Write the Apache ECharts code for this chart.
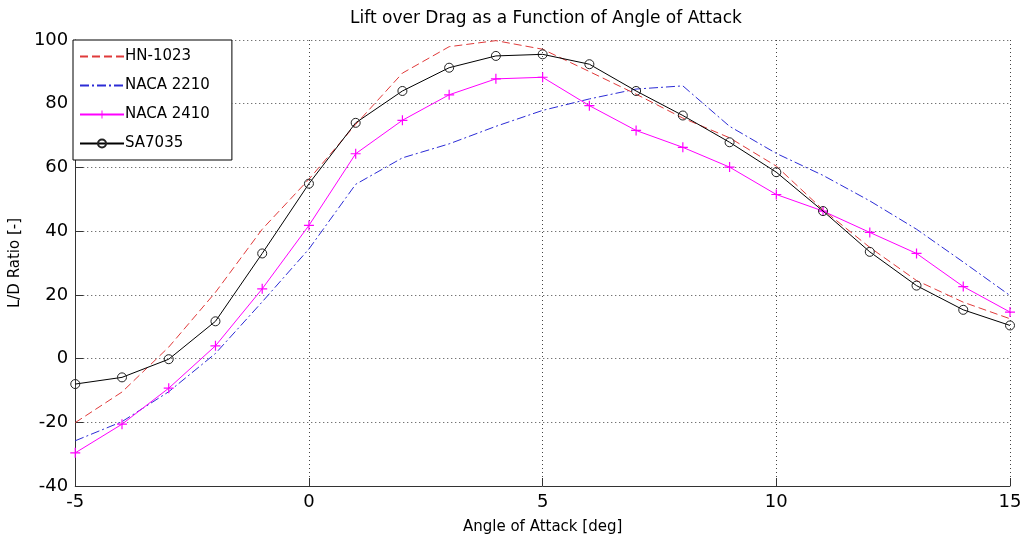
<!DOCTYPE html>
<html>
<head>
<meta charset="utf-8">
<script src="https://cdn.jsdelivr.net/npm/echarts@6/dist/echarts.min.js"></script>
<style>
html,body{margin:0;padding:0;background:#fff;}
#chart{width:1027px;height:540px;}
</style>
</head>
<body>
<div id="chart"></div>
<script>
const angles = [-5,-4,-3,-2,-1,0,1,2,3,4,5,6,7,8,9,10,11,12,13,14,15];
const hn1023 = [-20.1,-10.5,3.6,20.8,40.6,56.3,73.5,89.6,97.9,99.8,97.1,90.1,83.0,75.5,69.3,60.4,46.7,34.9,24.5,17.7,12.5];
const naca2210 = [-25.8,-19.8,-10.4,1.6,17.8,34.4,54.7,63.0,67.4,72.9,77.9,81.5,84.6,85.6,72.9,64.4,57.5,49.5,40.6,30.3,19.8];
const naca2410 = [-29.6,-20.6,-9.3,4.0,21.9,41.8,64.3,74.8,82.8,87.8,88.3,79.4,71.6,66.3,60.1,51.5,46.3,39.6,33.0,22.6,14.6];
const sa7035 = [-8.0,-5.9,-0.2,11.7,33.0,54.9,74.0,84.0,91.3,95.0,95.5,92.4,84.0,76.3,67.9,58.5,46.3,33.5,22.9,15.3,10.4];
const seriesNames = ['HN-1023','NACA 2210','NACA 2410','SA7035'];

const pairs = arr => angles.map((a,i)=>[a,arr[i]]);
const FONT = 'DejaVu Sans';
const plusPath = 'path://M4.4,0 H5.6 V4.4 H10 V5.6 H5.6 V10 H4.4 V5.6 H0 V4.4 H4.4 Z';

const chart = echarts.init(document.getElementById('chart'), null, {renderer:'canvas'});
chart.setOption({
  animation:false,
  backgroundColor:'#ffffff',
  title:{
    text:'Lift over Drag as a Function of Angle of Attack',
    left:541, top:5, textAlign:'center',
    textStyle:{fontFamily:FONT,fontSize:17,fontWeight:'normal',color:'#000'}
  },
  grid:{left:72,right:17,top:40,bottom:52,containLabel:false},
  legend:{
    orient:'vertical', left:73, top:40,
    data:[
      {name:seriesNames[0], itemStyle:{opacity:0}},
      {name:seriesNames[1], itemStyle:{opacity:0}},
      {name:seriesNames[2]},
      {name:seriesNames[3]}
    ],
    backgroundColor:'#fff',
    borderColor:'#000', borderWidth:1,
    padding:[9,22,9,6],
    itemWidth:44, itemHeight:10, itemGap:14,
    textStyle:{fontFamily:FONT,fontSize:15,color:'#000',padding:[0,0,0,-4]}
  },
  xAxis:{
    type:'value', min:-5, max:15, interval:5,
    name:'Angle of Attack [deg]', nameLocation:'middle', nameGap:34,
    nameTextStyle:{fontFamily:FONT,fontSize:15,color:'#000'},
    axisLine:{show:true,onZero:false,lineStyle:{color:'#333',width:1}},
    axisTick:{show:true,inside:true,length:8,lineStyle:{color:'#333'}},
    axisLabel:{fontFamily:FONT,fontSize:18,color:'#000',margin:7},
    splitLine:{show:true,lineStyle:{type:[1,3],color:'#444',width:1}}
  },
  yAxis:{
    type:'value', min:-40, max:100, interval:20,
    name:'L/D Ratio [-]', nameLocation:'middle', nameGap:48, nameRotate:90,
    nameTextStyle:{fontFamily:FONT,fontSize:15,color:'#000'},
    axisLine:{show:true,onZero:false,lineStyle:{color:'#333',width:1}},
    axisTick:{show:true,inside:true,length:8,lineStyle:{color:'#333'}},
    axisLabel:{fontFamily:FONT,fontSize:18,color:'#000',margin:7},
    splitLine:{show:true,lineStyle:{type:[1,3],color:'#444',width:1}}
  },
  series:[
    {name:seriesNames[0],type:'line',data:pairs(hn1023),symbol:'none',
     color:'#e03a3a',lineStyle:{width:1,type:[8,4],color:'#e03a3a'},z:3},
    {name:seriesNames[1],type:'line',data:pairs(naca2210),symbol:'none',
     color:'#2c2cd6',lineStyle:{width:1,type:[9,3,2,3],color:'#2c2cd6'},z:2},
    {name:seriesNames[2],type:'line',data:pairs(naca2410),symbol:plusPath,symbolSize:10,
     showAllSymbol:true,color:'#ff00ff',itemStyle:{color:'#ff00ff'},lineStyle:{width:1,color:'#ff00ff'},z:4},
    {name:seriesNames[3],type:'line',data:pairs(sa7035),symbol:'circle',symbolSize:9,
     showAllSymbol:true,color:'#000',itemStyle:{color:'rgba(255,255,255,0)',borderColor:'#222',borderWidth:1},
     lineStyle:{width:1,color:'#000'},z:5}
  ]
});
</script>
</body>
</html>
